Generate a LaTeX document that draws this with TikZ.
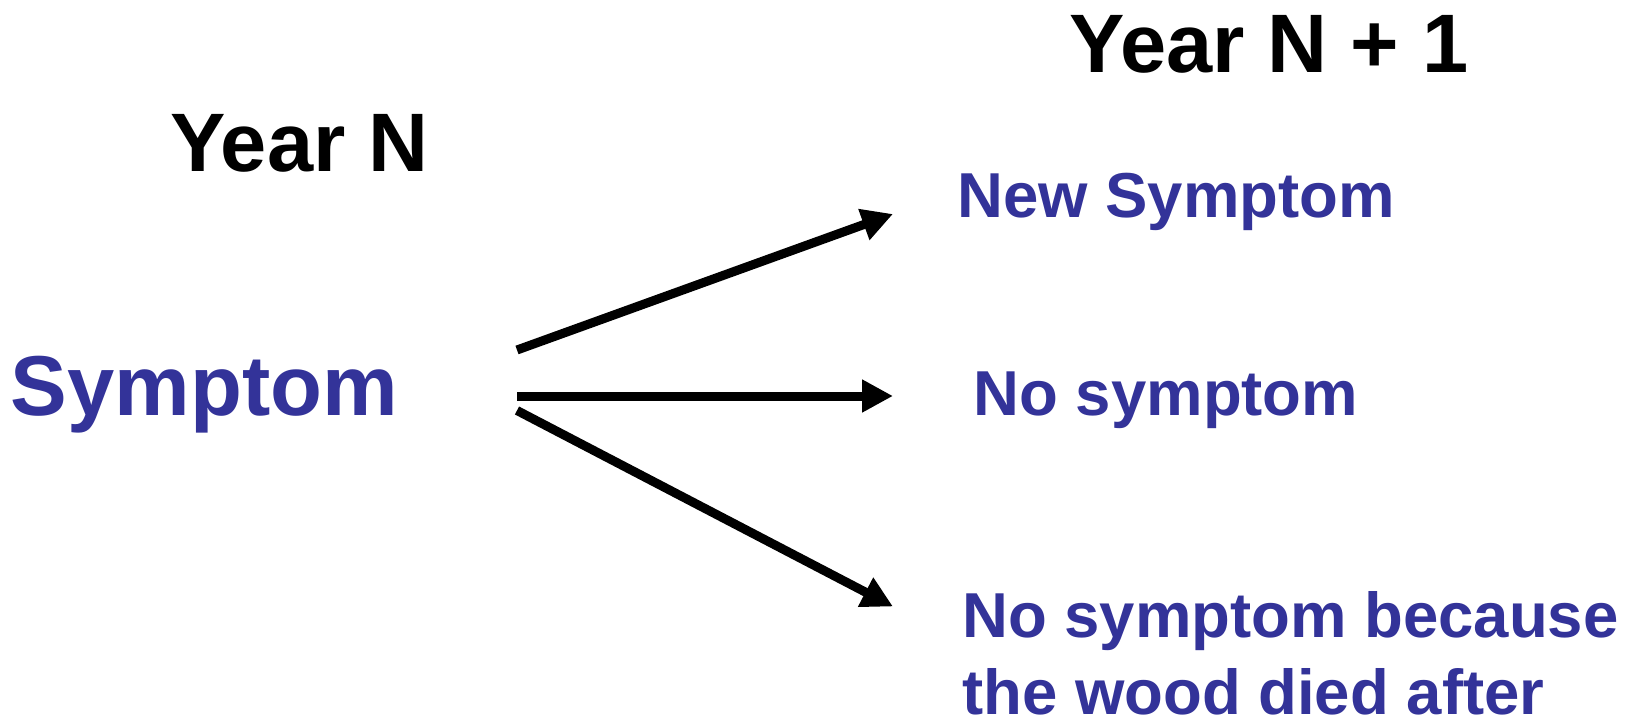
\documentclass[tikz,border=0pt]{standalone}
\usepackage{fontspec}
\setmainfont{Liberation Sans}
\usetikzlibrary{arrows.meta}
\definecolor{txtblue}{RGB}{51,51,153}
\tikzset{
  hdr/.style={anchor=base west, inner sep=0pt, text=black, font=\bfseries\fontsize{83}{99}\selectfont},
  bigblue/.style={anchor=base west, inner sep=0pt, text=txtblue, font=\bfseries\fontsize{85}{100}\selectfont},
  outcome/.style={anchor=base west, inner sep=0pt, text=txtblue, align=left, font=\bfseries\fontsize{63.5}{77}\selectfont},
  arr/.style={draw=black, line width=9pt, -{Triangle[length=31pt,width=31pt]}}
}
\begin{document}
\begin{tikzpicture}[x=1pt,y=-1pt]
\useasboundingbox (0,0) rectangle (1633,722);
\node[hdr] (yn) at (170,172) {Year N};
\node[hdr] (yn1) at (1069,72.5) {Year N + 1};
\node[bigblue] (sym) at (10.5,415) {Symptom};
\node[outcome] (new) at (957,218) {New Symptom};
\node[outcome] (nos) at (973.5,415) {No symptom};
\node[outcome] (died) at (962,714) {No symptom because\\the wood died after};
\coordinate (s1) at (517,350);
\coordinate (s2) at (517,396);
\coordinate (s3) at (517,410.5);
\coordinate (e1) at (893,214);
\coordinate (e2) at (893,396);
\coordinate (e3) at (893,606.5);
\draw[arr] (s1) -- (e1);
\draw[arr] (s2) -- (e2);
\draw[arr] (s3) -- (e3);
\end{tikzpicture}
\end{document}
